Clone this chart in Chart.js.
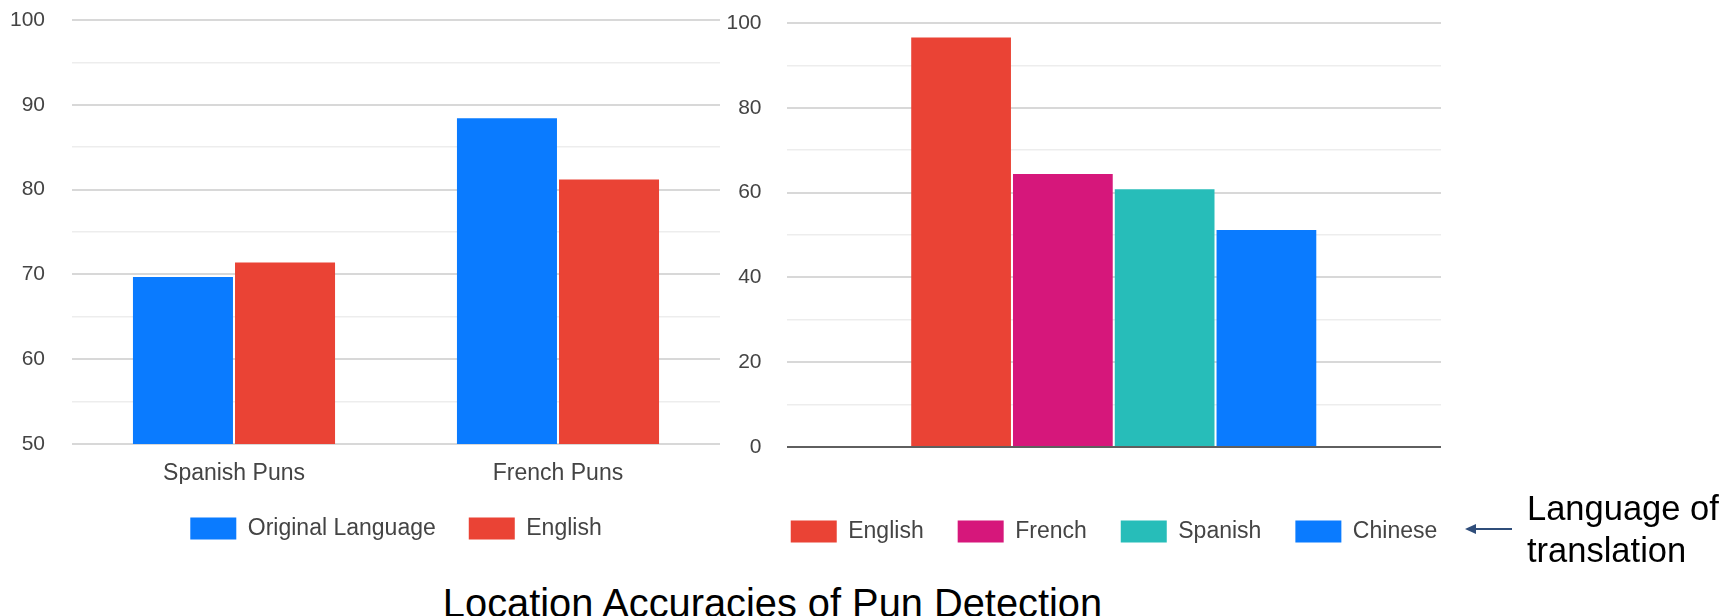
<!DOCTYPE html>
<html>
<head>
<meta charset="utf-8">
<script src="https://cdn.jsdelivr.net/npm/chart.js@4/dist/chart.umd.min.js"></script>
<style>
    body { margin: 0; width: 1725px; height: 616px; background: #fff; position: relative; overflow: hidden; font-family: "Liberation Sans", Arial, sans-serif; }
    .box { position: absolute; }
    #left-wrap { left: 0; top: 0; width: 760px; height: 550px; }
    #right-wrap { left: 700px; top: 0; width: 828px; height: 553px; }
    #title { position: absolute; left: 0; width: 1545px; top: 582px; text-align: center; font-size: 39.8px; line-height: 42px; color: #000; }
    #note { position: absolute; left: 1527px; top: 487px; font-size: 34.5px; line-height: 42px; color: #000; }
    #arrow { position: absolute; left: 1460px; top: 520px; }
</style>
</head>
<body>
<div class="box" id="left-wrap"><canvas id="left-chart"></canvas></div>
<div class="box" id="right-wrap"><canvas id="right-chart"></canvas></div>
<svg id="arrow" width="56" height="18">
    <line x1="14" y1="9" x2="52" y2="9" stroke="#2f4d7a" stroke-width="2.2"/>
    <polygon points="5,9 16,4 16,14" fill="#2f4d7a"/>
</svg>
<div id="note">Language of<br>translation</div>
<div id="title">Location Accuracies of Pun Detection</div>
<script>
// left chart: pun sets, original vs english
const punSets = ['Spanish Puns', 'French Puns'];
const originalLang = [69.7, 88.4];
const englishLang = [71.4, 81.2];

// right chart: language of translation
const translationLangs = ['English', 'French', 'Spanish', 'Chinese'];
const translationAcc = [96.6, 64.4, 60.8, 51.2];
const translationColors = ['#ea4335', '#d6177b', '#27bdb9', '#0a7bff'];

const tickFont = { family: 'Liberation Sans', size: 21 };
const labelFont = { family: 'Liberation Sans', size: 23, lineHeight: 1 };
const greyText = '#444';

function gridColor(major, tick, isBase) {
    if (isBase) return '#5f5f5f';
    return tick % major === 0 ? '#d8d8d8' : '#ededed';
}

// y axis: fixed width, and no extra top/bottom overhang from the tick padding
function yFit(width) {
    return s => {
        s.width = width;
        s.paddingTop = 0;
        s.paddingBottom = 0;
    };
}

Chart.defaults.font.family = 'Liberation Sans';
Chart.defaults.color = greyText;

new Chart(document.getElementById('left-chart'), {
    type: 'bar',
    data: {
        labels: punSets,
        datasets: [
            { label: 'Original Language', data: originalLang, backgroundColor: '#0a7bff' },
            { label: 'English', data: englishLang, backgroundColor: '#ea4335' }
        ]
    },
    options: {
        responsive: true,
        maintainAspectRatio: false,
        animation: false,
        layout: { padding: { top: 20, right: 40, left: 0, bottom: 0 } },
        datasets: { bar: { barPercentage: 0.98, categoryPercentage: 0.63 } },
        scales: {
            x: {
                grid: { display: false },
                border: { display: false },
                ticks: { font: labelFont, padding: 10, color: greyText },
                afterFit: s => { s.height = 40; }
            },
            y: {
                min: 50,
                max: 100,
                border: { display: false },
                grid: {
                    drawTicks: false,
                    color: ctx => gridColor(10, ctx.tick.value, false),
                    lineWidth: ctx => ctx.tick.value % 10 === 0 ? 2 : 1.5
                },
                ticks: {
                    stepSize: 5,
                    autoSkip: false,
                    padding: 27,
                    font: tickFont,
                    color: greyText,
                    callback: v => v % 10 === 0 ? v : ''
                },
                afterFit: yFit(72)
            }
        },
        plugins: {
            tooltip: { enabled: false },
            legend: {
                position: 'bottom',
                fullSize: false,
                labels: { boxWidth: 46, boxHeight: 22, padding: 33, font: labelFont, color: greyText }
            }
        }
    }
});

new Chart(document.getElementById('right-chart'), {
    type: 'bar',
    data: {
        labels: [''],
        datasets: translationLangs.map((name, i) => ({
            label: name,
            data: [translationAcc[i]],
            backgroundColor: translationColors[i]
        }))
    },
    options: {
        responsive: true,
        maintainAspectRatio: false,
        animation: false,
        layout: { padding: { top: 23, right: 0, left: 0, bottom: 0 } },
        datasets: { bar: { barPercentage: 0.98, categoryPercentage: 0.622 } },
        scales: {
            x: {
                grid: { display: false },
                border: { display: false },
                ticks: { display: false },
                afterFit: s => { s.height = 39; }
            },
            y: {
                min: 0,
                max: 100,
                border: { display: false },
                grid: {
                    drawTicks: false,
                    color: ctx => gridColor(20, ctx.tick.value, ctx.tick.value === 0),
                    lineWidth: ctx => ctx.tick.value % 20 === 0 ? 2 : 1.5
                },
                ticks: {
                    stepSize: 10,
                    autoSkip: false,
                    padding: 25,
                    font: tickFont,
                    color: greyText,
                    callback: v => v % 20 === 0 ? v : ''
                },
                afterFit: yFit(86.5)
            },
            // empty right-hand space so the legend row sits centred under the plot
            spacer: {
                type: 'linear',
                position: 'right',
                grid: { display: false },
                border: { display: false },
                ticks: { display: false },
                afterFit: s => { s.width = 87; }
            }
        },
        plugins: {
            tooltip: { enabled: false },
            legend: {
                position: 'bottom',
                labels: { boxWidth: 46, boxHeight: 22, padding: 34, font: labelFont, color: greyText }
            }
        }
    }
});
</script>
</body>
</html>
